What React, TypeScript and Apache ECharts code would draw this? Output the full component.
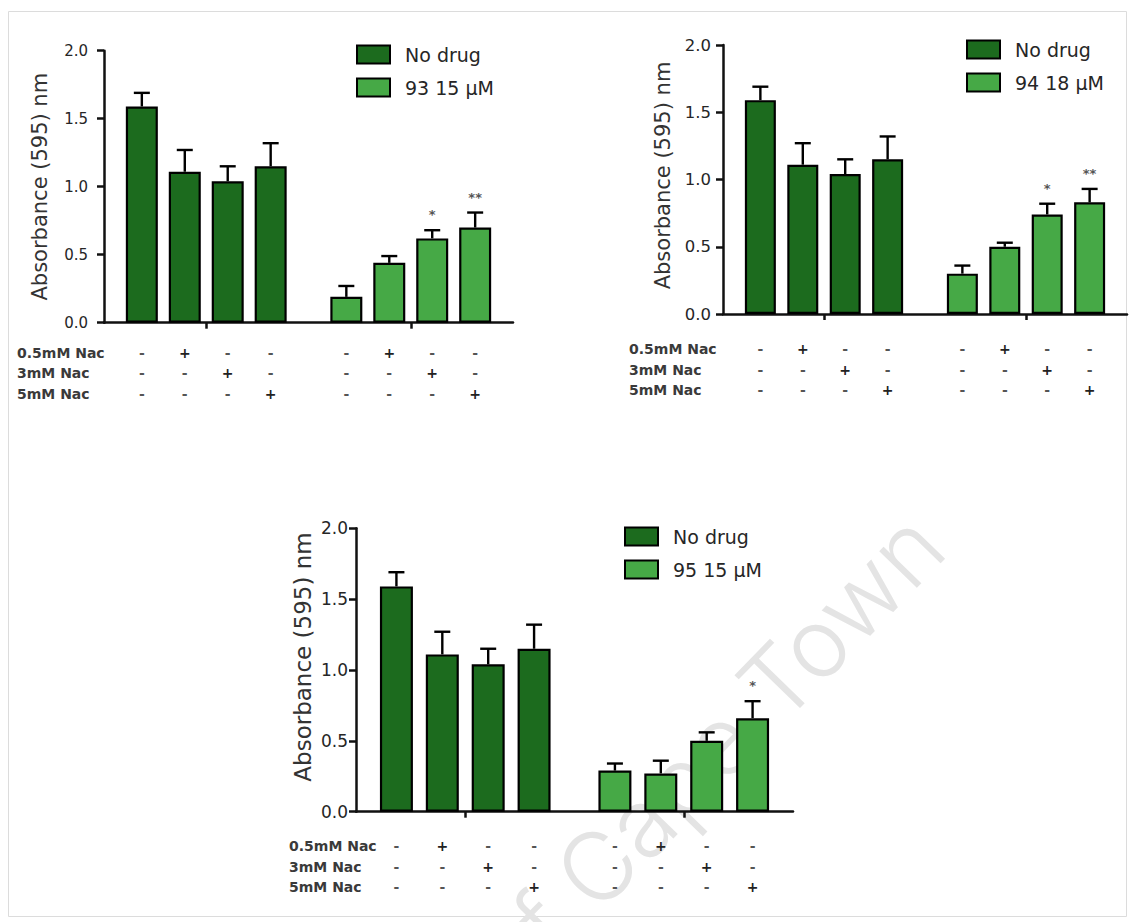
import React, { useEffect, useRef } from "react";
import * as echarts from "echarts";

// ---------- data ----------
const conditionLabels = ["0.5mM Nac", "3mM Nac", "5mM Nac"];
// one row per condition, one entry per bar inside a group
const conditionSigns = [
  ["-", "+", "-", "-"],
  ["-", "-", "+", "-"],
  ["-", "-", "-", "+"],
];
const yTickValues = [0, 0.5, 1.0, 1.5, 2.0];

const controlName = "No drug";
const noDrug = [1.59, 1.11, 1.04, 1.15];
const noDrugErr = [0.1, 0.16, 0.11, 0.17];

const drugNames = ["93 15 µM", "94 18 µM", "95 15 µM"];
const drug93 = [0.19, 0.44, 0.62, 0.7];
const drug93Err = [0.08, 0.05, 0.06, 0.11];
const drug93Sig = ["", "", "*", "**"];
const drug94 = [0.3, 0.5, 0.74, 0.83];
const drug94Err = [0.06, 0.03, 0.08, 0.1];
const drug94Sig = ["", "", "*", "**"];
const drug95 = [0.29, 0.27, 0.5, 0.66];
const drug95Err = [0.05, 0.09, 0.06, 0.12];
const drug95Sig = ["", "", "", "*"];

const yAxisName = "Absorbance (595) nm";
const watermark = "University of Cape Town";

// ---------- layout / style ----------
const DARK = "#1c6b1e";
const LIGHT = "#46a946";
const FONT = "DejaVu Sans";
const INK = "#262626";

const layouts = [
  { left: 104, top: 50.7, width: 409, height: 272, barWidth: 32, legendLeft: 356, legendTop: 44, rowX: 17, rows: [30, 50.6, 71.3], nameSize: 21, nameGap: 54, namePad: 0, tickSize: 15, tickMargin: 16 },
  { left: 723, top: 45, width: 404, height: 269, barWidth: 31, legendLeft: 966, legendTop: 39, rowX: 629, rows: [35.3, 56, 76], nameSize: 21, nameGap: 50, namePad: 8, tickSize: 16.5, tickMargin: 12 },
  { left: 356, top: 528.3, width: 437, height: 283.4, barWidth: 33, legendLeft: 624, legendTop: 526, rowX: 289, rows: [34.3, 55, 75.6], nameSize: 23, nameGap: 42, namePad: 26, tickSize: 17, tickMargin: 8 },
];

const panels = [
  { drug: drugNames[0], values: drug93, errs: drug93Err, sig: drug93Sig },
  { drug: drugNames[1], values: drug94, errs: drug94Err, sig: drug94Sig },
  { drug: drugNames[2], values: drug95, errs: drug95Err, sig: drug95Sig },
];

const SPACING = 0.42;
const barX = (g: number, i: number) => 1 + 2 * g + (i - 1.5) * SPACING;

function buildOption() {
  const grid: any[] = [];
  const xAxis: any[] = [];
  const yAxis: any[] = [];
  const legend: any[] = [];
  const series: any[] = [];
  const graphic: any[] = [];

  // frame
  graphic.push({
    type: "rect",
    z: -20,
    shape: { x: 8.5, y: 11.5, width: 1118, height: 905 },
    style: { fill: "#ffffff", stroke: "#dcdcdc", lineWidth: 1 },
  });
  // watermark
  graphic.push({
    type: "text",
    z: -10,
    x: 960,
    y: 562,
    rotation: 0.8,
    style: {
      text: watermark,
      font: "300 96px Inter",
      fill: "#e4e4e4",
      align: "right",
      verticalAlign: "bottom",
    },
  });

  panels.forEach((p, k) => {
    const L = layouts[k];
    grid.push({ left: L.left, top: L.top, width: L.width, height: L.height, containLabel: false });
    xAxis.push({
      type: "value",
      gridIndex: k,
      min: 0,
      max: 4,
      splitLine: { show: false },
      axisLabel: { show: false },
      axisLine: { show: true, lineStyle: { color: "#111", width: 2.5 } },
      axisTick: { show: true, customValues: [1, 3], length: 6, lineStyle: { color: "#111", width: 2.5 } },
    });
    yAxis.push({
      type: "value",
      gridIndex: k,
      min: 0,
      max: 2,
      interval: 0.5,
      splitLine: { show: false },
      axisLine: { show: true, lineStyle: { color: "#111", width: 2.5 } },
      axisTick: { show: true, length: 7, lineStyle: { color: "#111", width: 2.5 } },
      axisLabel: {
        fontFamily: FONT,
        fontSize: L.tickSize,
        color: INK,
        margin: L.tickMargin,
        formatter: (v: number) => (yTickValues.includes(v) ? v.toFixed(1) : ""),
      },
      name: yAxisName,
      nameLocation: "middle",
      nameGap: L.nameGap,
      nameTextStyle: { fontFamily: FONT, fontSize: L.nameSize, color: "#333", padding: [0, 0, 0, L.namePad] },
    });
    legend.push({
      data: [controlName, p.drug],
      orient: "vertical",
      left: L.legendLeft,
      top: L.legendTop,
      padding: 0,
      itemWidth: 33,
      itemHeight: 18,
      itemGap: 12,
      icon: "rect",
      selectedMode: false,
      textStyle: { fontFamily: FONT, fontSize: 19, color: INK, padding: [0, 0, 0, 10], lineHeight: 21 },
    });

    const groups = [
      { name: controlName, values: noDrug, errs: noDrugErr, sig: ["", "", "", ""], color: DARK },
      { name: p.drug, values: p.values, errs: p.errs, sig: p.sig, color: LIGHT },
    ];
    groups.forEach((g, gi) => {
      series.push({
        type: "bar",
        name: g.name,
        xAxisIndex: k,
        yAxisIndex: k,
        barWidth: L.barWidth,
        barGap: "-100%",
        itemStyle: { color: g.color, borderColor: "#000", borderWidth: 2.2 },
        data: g.values.map((v, i) => [barX(gi, i), v]),
        z: 2,
      });
      series.push({
        type: "custom",
        name: g.name + " SEM",
        xAxisIndex: k,
        yAxisIndex: k,
        clip: false,
        z: 3,
        data: g.values.map((v, i) => [barX(gi, i), v, g.errs[i]]),
        renderItem: (params: any, api: any) => {
          const x = api.value(0);
          const v = api.value(1);
          const e = api.value(2);
          const b = api.coord([x, v]);
          const t = api.coord([x, v + e]);
          const cap = 8;
          const children: any[] = [
            { type: "line", shape: { x1: b[0], y1: b[1], x2: t[0], y2: t[1] }, style: { stroke: "#000", lineWidth: 2.4 } },
            { type: "line", shape: { x1: t[0] - cap, y1: t[1], x2: t[0] + cap, y2: t[1] }, style: { stroke: "#000", lineWidth: 2.4 } },
          ];
          const s = g.sig[params.dataIndex];
          if (s) {
            children.push({
              type: "text",
              style: { text: s, x: t[0], y: t[1] - 9, align: "center", verticalAlign: "bottom", font: "bold 13px DejaVu Sans", fill: "#555" },
            });
          }
          return { type: "group", children };
        },
      });
      // condition table (+ / -) under each bar
      series.push({
        type: "custom",
        name: g.name + " conditions",
        xAxisIndex: k,
        yAxisIndex: k,
        clip: false,
        silent: true,
        data: g.values.map((_, i) => [barX(gi, i), 0, i]),
        renderItem: (params: any, api: any) => {
          const x = api.value(0);
          const i = api.value(2);
          const c = api.coord([x, 0]);
          return {
            type: "group",
            children: conditionSigns.map((row, r) => ({
              type: "text",
              style: {
                text: row[i],
                x: c[0],
                y: c[1] + L.rows[r],
                align: "center",
                verticalAlign: "middle",
                font: "bold 14px DejaVu Sans",
                fill: row[i] === "+" ? "#222" : "#555",
              },
            })),
          };
        },
      });
    });

    conditionLabels.forEach((lab, r) => {
      graphic.push({
        type: "text",
        x: L.rowX,
        y: L.top + L.height + L.rows[r],
        style: { text: lab, font: "bold 14px DejaVu Sans", fill: "#3a3a3a", align: "left", verticalAlign: "middle" },
      });
    });
  });

  return {
    animation: false,
    backgroundColor: "#ffffff",
    grid,
    xAxis,
    yAxis,
    legend,
    series,
    graphic,
  };
}

export default function App() {
  const ref = useRef<HTMLDivElement>(null);
  useEffect(() => {
    if (!ref.current) return;
    const chart = echarts.init(ref.current, undefined, { renderer: "svg" });
    chart.setOption(buildOption());
    return () => chart.dispose();
  }, []);
  return <div ref={ref} style={{ position: "absolute", left: 0, top: 0, width: 1132, height: 922 }} />;
}
